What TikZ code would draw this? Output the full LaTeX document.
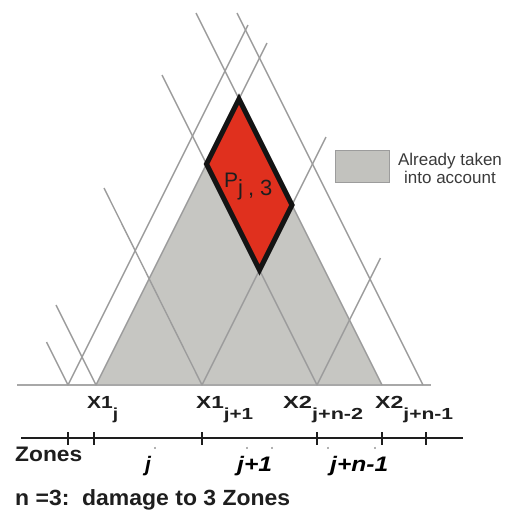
\documentclass[tikz,border=0pt]{standalone}
\usepackage{fontspec}
\setmainfont{Liberation Sans}
\usepackage{graphicx}
\definecolor{linegray}{HTML}{9C9C9C}
\definecolor{basegray}{HTML}{A8A8A8}
\definecolor{fillgray}{HTML}{C6C6C2}
\definecolor{boxgray}{HTML}{C2C2BE}
\definecolor{redfill}{HTML}{E0301E}
\definecolor{darktext}{HTML}{1E1E1E}
\definecolor{legtext}{HTML}{3A3A3A}
\newcommand{\fs}[1]{\fontsize{#1}{#1}\selectfont}
\newcommand{\hfit}[2]{\resizebox{#1}{\height}{#2}}
\newcommand{\xlab}[3]{\hfit{#3}{X#1\raisebox{-11pt}{\fs{16}#2}}}
\begin{document}
\begin{tikzpicture}[x=1pt,y=-1pt,
  gline/.style={draw=linegray,line width=1.4pt},
  baseln/.style={draw=basegray,line width=2pt},
  axisln/.style={draw=darktext,line width=1.8pt},
  tickln/.style={draw=darktext,line width=2pt},
  faint/.style={draw=black!30,line width=1.2pt},
  lbl/.style={inner sep=0pt,anchor=base west,text=darktext,font=\bfseries\fs{17.5}},
  ilbl/.style={inner sep=0pt,anchor=base west,text=black,font=\bfseries\itshape\fs{21}},
  legtxt/.style={inner sep=0pt,anchor=base,text=legtext,font=\fs{17}}]
\useasboundingbox (0,0) rectangle (511,512);
% base points
\coordinate (a) at (68,385);
\coordinate (b) at (96,385);
\coordinate (c) at (202,385);
\coordinate (d) at (317,385);
\coordinate (e) at (382,385);
\coordinate (f) at (423,385);
% diamond / triangle vertices
\coordinate (T) at (239,99);
\coordinate (L) at (206.5,164);
\coordinate (R) at (292,205);
\coordinate (B) at (259.5,270);
% free line ends
\coordinate (a1) at (248,25);
\coordinate (a2) at (46.5,342);
\coordinate (b1) at (267,43);
\coordinate (b2) at (56,305);
\coordinate (c1) at (326,137);
\coordinate (c2) at (104,188);
\coordinate (d1) at (380.5,258);
\coordinate (d2) at (162,75);
\coordinate (e2) at (196,13);
\coordinate (f2) at (237,13);
% grey triangle
\fill[fillgray] (b) -- (T) -- (e) -- cycle;
% baseline
\draw[baseln] (17,385) -- (431,385);
% construction lines
\draw[gline] (a) -- (a1);
\draw[gline] (a) -- (a2);
\draw[gline] (b) -- (b1);
\draw[gline] (b) -- (b2);
\draw[gline] (c) -- (c1);
\draw[gline] (c) -- (c2);
\draw[gline] (d) -- (d1);
\draw[gline] (d) -- (d2);
\draw[gline] (e) -- (e2);
\draw[gline] (f) -- (f2);
% red diamond
\draw[line width=5pt,draw=black!92,fill=redfill,line join=miter] (L) -- (T) -- (R) -- (B) -- cycle;
\node[inner sep=0pt,anchor=base west,text=darktext,font=\fs{21}] (P) at (224,187)
  {P\raisebox{-8pt}{\fs{22}j\kern5pt,\kern6pt3}};
% legend
\draw[draw=linegray,fill=boxgray,line width=1pt] (335,150) rectangle (389,182);
\begin{scope}
\clip (0,0) rectangle (501,512);
\node[legtxt] (leg1) at (450,165) {Already taken};
\end{scope}
\node[legtxt] (leg2) at (450,183) {into account};
% point labels
\node[lbl] (x1j) at (87,408) {\xlab{1}{j}{31pt}};
\node[lbl] (x1j1) at (196,408) {\xlab{1}{j+1}{57pt}};
\node[lbl] (x2a) at (283,408) {\xlab{2}{j+n-2}{80pt}};
\node[lbl] (x2b) at (375,408) {\xlab{2}{j+n-1}{78pt}};
% zone axis
\draw[axisln] (21,438) -- (463,438);
\foreach \t in {68,94,202,317,382,426}
  \draw[tickln] (\t,432) -- (\t,445);
\foreach \t in {155,247,272,328,375}
  \draw[faint] (\t,446.5) -- (\t,449);
\node[lbl,font=\bfseries\fs{21}] (zones) at (15,461) {\hfit{67pt}{Zones}};
\node[ilbl] (zj) at (145,471) {j};
\node[ilbl] (zj1) at (237,471) {\hfit{35pt}{j+1}};
\node[ilbl] (zjn) at (330,471) {\hfit{58pt}{j+n-1}};
\node[lbl,font=\bfseries\fs{22}] (note) at (15,505) {\hfit{275pt}{n =3:\ \ damage to 3 Zones}};
\end{tikzpicture}
\end{document}
